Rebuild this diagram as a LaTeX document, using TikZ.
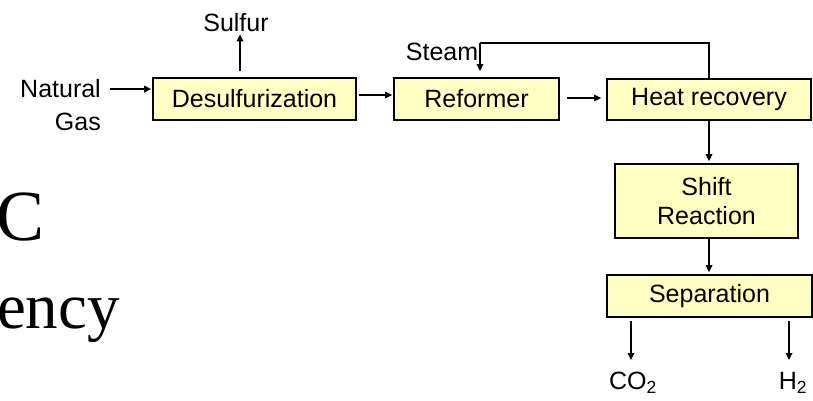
\documentclass[tikz,border=0pt]{standalone}
\usepackage{fontspec}
\setmainfont{Liberation Serif}
\newfontfamily\labfont{Liberation Sans}
\usetikzlibrary{arrows.meta,calc}
\definecolor{boxfill}{HTML}{FFFFC4}
\tikzset{
  proc/.style={draw=black, line width=1.6pt, fill=boxfill, inner sep=0pt, align=center,
    font=\labfont\fontsize{25}{29}\selectfont},
  lab/.style={inner sep=0pt, font=\labfont\fontsize{25}{29}\selectfont},
  arr/.style={line width=1.6pt, -{Triangle[length=7pt,width=6.5pt]}},
  plain/.style={line width=1.6pt},
  big/.style={inner sep=0pt, anchor=base east}
}
\begin{document}
\begin{tikzpicture}[x=1pt,y=-1pt]
\useasboundingbox (0,0) rectangle (813,401);
% background slide text fragments
\node[big, font=\fontsize{72}{80}\selectfont] (c) at (45,240) {C};
\node[big, font=\fontsize{65}{72}\selectfont] (ency) at (120,328) {ency};
% process boxes
\node[proc, minimum width=203pt, minimum height=42pt] (desulf) at (254.5,99) {Desulfurization};
\node[proc, minimum width=165pt, minimum height=42pt] (reformer) at (476.5,99) {Reformer};
\node[proc, minimum width=204pt, minimum height=41pt] (heat) at (709,99.5) {Heat recovery};
\node[proc, minimum width=183pt, minimum height=74pt] (shift) at (706.5,201) {Shift\\[0pt]Reaction};
\node[proc, minimum width=205pt, minimum height=42pt] (sep) at (709.5,296) {Separation};
% labels
\node[lab, anchor=base east] (ng1) at (101,98) {Natural};
\node[lab, anchor=base east] (ng2) at (101,130) {Gas};
\node[lab] (sulfur) at (236,23) {Sulfur};
\node[lab] (steam) at (442,52) {Steam};
\node[lab] (co2) at (633,383) {CO\textsubscript{2}};
\node[lab] (h2) at (793,383) {H\textsubscript{2}};
\coordinate (loop) at (480,43);
\coordinate (sulfx) at (240,0);
% connectors
\draw[arr, shorten <=9pt, shorten >=1pt] (ng1.east) -- (desulf.west |- ng1.east);
\draw[arr, shorten <=6pt, shorten >=2pt] (desulf.north -| sulfx) -- (sulfx |- sulfur.south);
\draw[arr, shorten <=2pt, shorten >=1pt] ([yshift=4pt]desulf.east) -- ([yshift=4pt]reformer.west);
\draw[arr, shorten <=7pt, shorten >=5pt] ([yshift=1pt]reformer.east) -- ([yshift=1pt]heat.west |- reformer.east);
\draw[plain] (heat.north) |- (loop);
\draw[arr, shorten >=6pt] (loop) -- (loop |- reformer.north);
\draw[arr, shorten >=2pt] (heat.south) -- (heat.south |- shift.north);
\draw[arr, shorten >=2pt] (heat.south |- shift.south) -- (heat.south |- sep.north);
\draw[arr, shorten <=3pt, shorten >=10pt] (sep.south -| 631,0) -- (631,370);
\draw[arr, shorten <=3pt, shorten >=10pt] (sep.south -| 789,0) -- (789,370);
\end{tikzpicture}
\end{document}
